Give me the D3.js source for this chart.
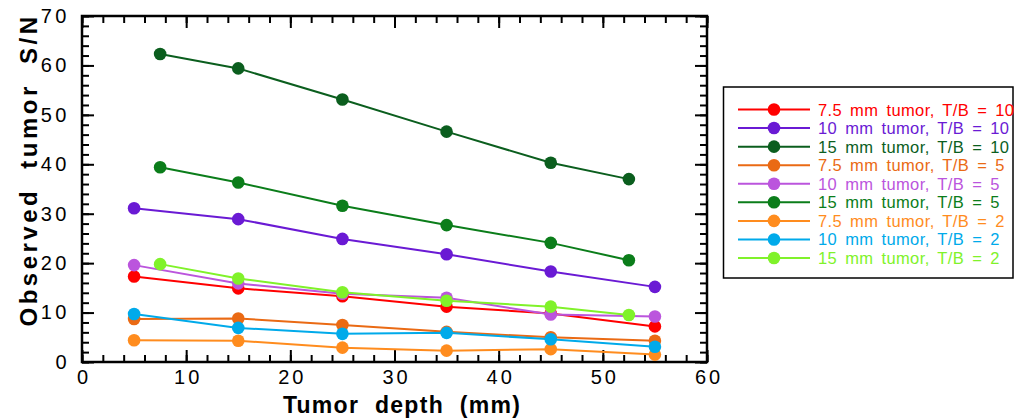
<!DOCTYPE html>
<html><head><meta charset="utf-8">
<script src="https://cdn.jsdelivr.net/npm/d3@7"></script>
<style>body{margin:0;background:#fff} svg{display:block}</style>
</head><body><svg id="c" width="1016" height="419"></svg>
<script>
// ---- data ----
const xSmall = [5, 15, 25, 35, 45, 55];          // 7.5 mm and 10 mm tumors
const xLarge = [7.5, 15, 25, 35, 45, 52.5];      // 15 mm tumors
const seriesNames = [
  "7.5 mm tumor, T/B = 10", "10 mm tumor, T/B = 10", "15 mm tumor, T/B = 10",
  "7.5 mm tumor, T/B = 5", "10 mm tumor, T/B = 5", "15 mm tumor, T/B = 5",
  "7.5 mm tumor, T/B = 2", "10 mm tumor, T/B = 2", "15 mm tumor, T/B = 2"
];
const seriesColors = ["#ff0000", "#6a1ad4", "#0b5e1e", "#ea6a14", "#bb55dd", "#0b7d1a", "#ff8c1e", "#00aaea", "#80f22a"];
const seriesX = [xSmall, xSmall, xLarge, xSmall, xSmall, xLarge, xSmall, xSmall, xLarge];
const t75_10 = [17.3, 14.9, 13.3, 11.2, 9.8, 7.2];
const t10_10 = [31.1, 28.9, 24.9, 21.8, 18.3, 15.2];
const t15_10 = [62.3, 59.4, 53.1, 46.6, 40.3, 37.0];
const t75_5  = [8.7, 8.8, 7.5, 6.1, 5.0, 4.3];
const t10_5  = [19.6, 15.9, 13.8, 13.0, 9.6, 9.2];
const t15_5  = [39.4, 36.3, 31.6, 27.7, 24.1, 20.6];
const t75_2  = [4.4, 4.3, 2.9, 2.3, 2.6, 1.5];
const t10_2  = [9.7, 6.9, 5.7, 5.9, 4.6, 3.1];
const t15_2  = [19.8, 16.9, 14.1, 12.4, 11.2, 9.5];
const seriesValues = [t75_10, t10_10, t15_10, t75_5, t10_5, t15_5, t75_2, t10_2, t15_2];
const xMajorTicks = [0, 10, 20, 30, 40, 50, 60];
const yMajorTicks = [0, 10, 20, 30, 40, 50, 60, 70];
const xTitle = "Tumor depth (mm)";
const yTitle = "Observed tumor S/N";

// ---- layout ----
const svg = d3.select("#c");
const L = 82, R = 707, T = 16, B = 362;
const x = d3.scaleLinear().domain([0, 60]).range([L, R]);
const y = d3.scaleLinear().domain([0, 70]).range([B, T]);
const minorX = d3.range(0, 60.001, 2);
const minorY = d3.range(0, 70.001, 2);
const font = "'Liberation Sans', Arial, sans-serif";

function styleAxis(g) {
  g.select(".domain").remove();
  g.selectAll("line").attr("stroke", "#000").attr("stroke-width", 2);
  g.selectAll("text").attr("font-family", font).attr("fill", "#000");
}
// bottom
svg.append("g").attr("transform", `translate(0,${B})`)
  .call(d3.axisBottom(x).tickValues(minorX).tickSize(-7).tickFormat(""))
  .call(styleAxis);
svg.append("g").attr("transform", `translate(0,${B})`)
  .call(d3.axisBottom(x).tickValues(xMajorTicks).tickSize(-12).tickPadding(8).tickFormat(d3.format("d")))
  .call(styleAxis)
  .call(g => g.selectAll("text").attr("font-size", 20).attr("letter-spacing", "3px").attr("dx", "1.5px"));
// top
svg.append("g").attr("transform", `translate(0,${T})`)
  .call(d3.axisTop(x).tickValues(minorX).tickSize(-7).tickFormat(""))
  .call(styleAxis);
svg.append("g").attr("transform", `translate(0,${T})`)
  .call(d3.axisTop(x).tickValues(xMajorTicks).tickSize(-12).tickFormat(""))
  .call(styleAxis);
// left
svg.append("g").attr("transform", `translate(${L},0)`)
  .call(d3.axisLeft(y).tickValues(minorY).tickSize(-7).tickFormat(""))
  .call(styleAxis);
svg.append("g").attr("transform", `translate(${L},0)`)
  .call(d3.axisLeft(y).tickValues(yMajorTicks).tickSize(-12).tickPadding(12).tickFormat(d3.format("d")))
  .call(styleAxis)
  .call(g => g.selectAll("text").attr("font-size", 20).attr("letter-spacing", "3.5px"));
// right
svg.append("g").attr("transform", `translate(${R},0)`)
  .call(d3.axisRight(y).tickValues(minorY).tickSize(-7).tickFormat(""))
  .call(styleAxis);
svg.append("g").attr("transform", `translate(${R},0)`)
  .call(d3.axisRight(y).tickValues(yMajorTicks).tickSize(-12).tickFormat(""))
  .call(styleAxis);
// frame
svg.append("rect").attr("x", L).attr("y", T).attr("width", R - L).attr("height", B - T)
  .attr("fill", "none").attr("stroke", "#000").attr("stroke-width", 2.5);

// titles
svg.append("text").attr("x", 402).attr("y", 413).attr("text-anchor", "middle")
  .attr("font-family", font).attr("font-weight", "bold").attr("font-size", 23)
  .attr("letter-spacing", "1.3px").attr("word-spacing", "8px").text(xTitle);
svg.append("text").attr("transform", "translate(37,170) rotate(-90)").attr("text-anchor", "middle")
  .attr("font-family", font).attr("font-weight", "bold").attr("font-size", 24)
  .attr("letter-spacing", "3.5px").attr("word-spacing", "9px").text(yTitle);

// series
const line = d3.line().x(d => x(d[0])).y(d => y(d[1]));
seriesValues.forEach((vals, i) => {
  const pts = vals.map((v, j) => [seriesX[i][j], v]);
  const g = svg.append("g");
  g.append("path").attr("d", line(pts)).attr("fill", "none")
    .attr("stroke", seriesColors[i]).attr("stroke-width", 2);
  g.selectAll("circle").data(pts).join("circle")
    .attr("cx", d => x(d[0])).attr("cy", d => y(d[1])).attr("r", 6.3)
    .attr("fill", seriesColors[i]);
});

// legend
const lg = svg.append("g");
lg.append("rect").attr("x", 723.5).attr("y", 87).attr("width", 289.5).attr("height", 191)
  .attr("fill", "#fff").attr("stroke", "#000").attr("stroke-width", 1.5);
const ly = d3.scaleLinear().domain([0, 8]).range([109.5, 258]);
seriesNames.forEach((name, i) => {
  const yy = ly(i);
  lg.append("line").attr("x1", 738).attr("x2", 810).attr("y1", yy).attr("y2", yy)
    .attr("stroke", seriesColors[i]).attr("stroke-width", 2);
  lg.append("circle").attr("cx", 774).attr("cy", yy).attr("r", 6.3).attr("fill", seriesColors[i]);
  lg.append("text").attr("x", 818).attr("y", yy + 6).attr("font-family", font)
    .attr("font-size", 16.5).attr("letter-spacing", "0.4px").attr("word-spacing", "3px")
    .attr("fill", seriesColors[i]).text(name);
});
</script></body></html>
